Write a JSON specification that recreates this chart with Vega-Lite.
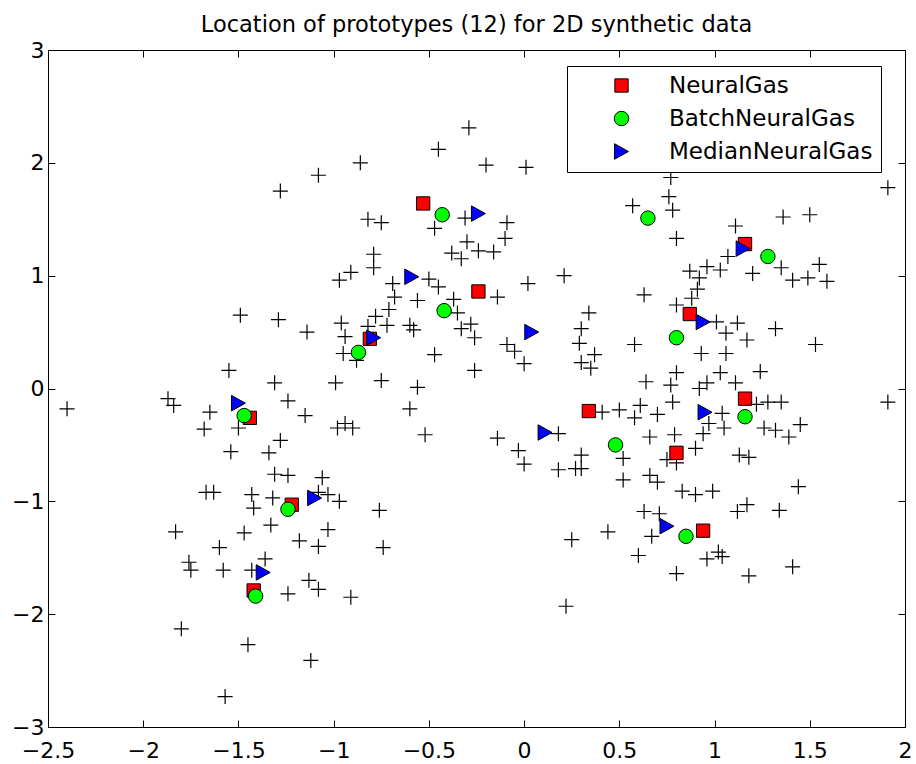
{
  "$schema": "https://vega.github.io/schema/vega-lite/v6.json",
  "width": 857,
  "height": 677,
  "autosize": {"type": "none"},
  "padding": {"left": 48, "top": 50, "right": 11, "bottom": 37},
  "background": "white",
  "title": {
    "text": "Location of prototypes (12) for 2D synthetic data",
    "font": "DejaVu Sans",
    "fontSize": 22.5,
    "fontWeight": "normal",
    "color": "black",
    "anchor": "middle",
    "offset": 3
  },
  "config": {
    "view": {"stroke": "black", "strokeWidth": 1},
    "axis": {
      "grid": false,
      "domain": false,
      "tickColor": "black",
      "tickSize": -7,
      "tickWidth": 1,
      "labelFont": "DejaVu Sans",
      "labelFontSize": 22,
      "labelColor": "black",
      "labelFlush": false,
      "labelOverlap": false
    }
  },
  "datasets": {
    "pts": [
      {"x":-1.08,"y":1.89},{"x":-1.28,"y":1.75},{"x":-1.49,"y":0.65},{"x":-1.29,"y":0.61},{"x":-1.14,"y":0.50},{"x":-1.55,"y":0.16},{"x":-1.31,"y":0.05},{"x":-0.99,"y":0.05},{"x":-0.97,"y":0.96},{"x":-0.96,"y":0.58},{"x":-0.94,"y":0.46},{"x":-0.95,"y":0.31},
      {"x":-0.29,"y":2.31},{"x":-0.45,"y":2.12},{"x":-0.86,"y":2.00},{"x":-0.20,"y":1.98},{"x":0.01,"y":1.96},{"x":-0.82,"y":1.50},{"x":-0.75,"y":1.47},{"x":-0.47,"y":1.42},{"x":-0.31,"y":1.51},{"x":-0.09,"y":1.47},{"x":-0.10,"y":1.33},{"x":-0.30,"y":1.30},{"x":-0.38,"y":1.20},{"x":-0.33,"y":1.15},{"x":-0.24,"y":1.22},{"x":-0.16,"y":1.21},{"x":-0.79,"y":1.19},{"x":-0.79,"y":1.07},{"x":-0.91,"y":1.03},{"x":-0.69,"y":0.93},{"x":-0.50,"y":0.97},{"x":-0.45,"y":0.90},{"x":0.02,"y":0.93},{"x":0.21,"y":1.00},{"x":-0.68,"y":0.81},{"x":-0.56,"y":0.78},{"x":-0.37,"y":0.79},{"x":-0.14,"y":0.81},{"x":-0.71,"y":0.70},{"x":-0.78,"y":0.64},{"x":-0.72,"y":0.56},{"x":-0.60,"y":0.56},{"x":-0.58,"y":0.52},{"x":-0.35,"y":0.67},{"x":-0.33,"y":0.53},{"x":-0.28,"y":0.57},{"x":-0.26,"y":0.45},{"x":-0.82,"y":0.55},{"x":-0.47,"y":0.30},{"x":-0.09,"y":0.39},{"x":-0.05,"y":0.33},{"x":0.00,"y":0.22},{"x":0.34,"y":0.67},{"x":0.30,"y":0.53},{"x":0.29,"y":0.40},{"x":0.37,"y":0.30},{"x":0.30,"y":0.23},{"x":0.35,"y":0.18},{"x":-0.26,"y":0.16},{"x":-0.75,"y":0.07},{"x":-0.56,"y":0.01},{"x":-0.88,"y":0.25},
      {"x":0.77,"y":1.87},{"x":0.76,"y":1.70},{"x":0.78,"y":1.58},{"x":0.57,"y":1.62},{"x":1.91,"y":1.78},{"x":0.80,"y":1.33},{"x":1.11,"y":1.44},{"x":1.36,"y":1.52},{"x":1.50,"y":1.54},{"x":1.07,"y":1.17},{"x":1.03,"y":1.05},{"x":0.96,"y":1.08},{"x":0.87,"y":1.04},{"x":0.92,"y":0.98},{"x":1.20,"y":1.02},{"x":1.35,"y":1.07},{"x":1.41,"y":0.96},{"x":1.49,"y":0.98},{"x":1.55,"y":1.10},{"x":1.59,"y":0.95},{"x":0.63,"y":0.83},{"x":0.91,"y":0.88},{"x":0.88,"y":0.80},{"x":0.80,"y":0.74},{"x":1.01,"y":0.59},{"x":1.12,"y":0.58},{"x":1.06,"y":0.49},{"x":1.17,"y":0.43},{"x":1.32,"y":0.53},{"x":0.58,"y":0.39},{"x":1.53,"y":0.39},{"x":0.93,"y":0.31},{"x":1.06,"y":0.31},{"x":0.64,"y":0.06},{"x":0.80,"y":0.14},{"x":0.77,"y":0.03},{"x":0.92,"y":0.00},{"x":0.96,"y":0.05},{"x":1.03,"y":0.14},{"x":1.11,"y":0.05},{"x":1.24,"y":0.15},
      {"x":-2.40,"y":-0.18},{"x":-1.87,"y":-0.09},{"x":-1.84,"y":-0.15},{"x":-1.65,"y":-0.21},{"x":-1.68,"y":-0.36},{"x":-1.50,"y":-0.35},{"x":-1.24,"y":-0.11},{"x":-1.15,"y":-0.24},{"x":-0.98,"y":-0.35},{"x":-1.28,"y":-0.46},{"x":-1.54,"y":-0.56},{"x":-1.34,"y":-0.57},{"x":-1.31,"y":-0.76},{"x":-1.24,"y":-0.77},{"x":-1.06,"y":-0.79},{"x":-1.67,"y":-0.92},{"x":-1.63,"y":-0.92},{"x":-1.43,"y":-0.94},{"x":-1.42,"y":-1.06},{"x":-1.32,"y":-0.97},{"x":-1.08,"y":-0.92},{"x":-1.03,"y":-0.94},{"x":-0.97,"y":-1.00},{"x":-1.33,"y":-1.21},{"x":-1.83,"y":-1.27},{"x":-1.47,"y":-1.28},{"x":-1.03,"y":-1.25},{"x":-1.18,"y":-1.35},{"x":-1.08,"y":-1.40},{"x":-1.60,"y":-1.41},{"x":-1.36,"y":-1.51},{"x":-1.76,"y":-1.54},{"x":-1.75,"y":-1.61},{"x":-1.58,"y":-1.61},{"x":-1.43,"y":-1.61},{"x":-1.24,"y":-1.82},{"x":-1.13,"y":-1.70},{"x":-1.08,"y":-1.78},{"x":-1.80,"y":-2.13},{"x":-1.45,"y":-2.27},{"x":-1.12,"y":-2.41},{"x":-1.57,"y":-2.73},
      {"x":-0.60,"y":-0.18},{"x":-0.94,"y":-0.31},{"x":-0.90,"y":-0.35},{"x":-0.52,"y":-0.41},{"x":-0.14,"y":-0.44},{"x":-0.03,"y":-0.55},{"x":0.00,"y":-0.67},{"x":0.18,"y":-0.40},{"x":0.41,"y":-0.21},{"x":0.50,"y":-0.19},{"x":0.30,"y":-0.59},{"x":0.27,"y":-0.71},{"x":0.30,"y":-0.71},{"x":0.18,"y":-0.72},{"x":0.52,"y":-0.62},{"x":0.52,"y":-0.81},{"x":-0.76,"y":-1.08},{"x":-0.74,"y":-1.41},{"x":-0.91,"y":-1.85},{"x":0.25,"y":-1.34},{"x":0.44,"y":-1.27},{"x":0.22,"y":-1.93},
      {"x":1.22,"y":-0.14},{"x":1.28,"y":-0.12},{"x":1.35,"y":-0.12},{"x":1.91,"y":-0.12},{"x":1.04,"y":-0.22},{"x":0.97,"y":-0.31},{"x":0.94,"y":-0.40},{"x":1.05,"y":-0.35},{"x":1.26,"y":-0.35},{"x":1.32,"y":-0.37},{"x":1.39,"y":-0.43},{"x":1.45,"y":-0.32},{"x":0.61,"y":-0.15},{"x":0.58,"y":-0.26},{"x":0.70,"y":-0.23},{"x":0.78,"y":-0.12},{"x":0.66,"y":-0.43},{"x":0.79,"y":-0.41},{"x":0.75,"y":-0.63},{"x":0.80,"y":-0.66},{"x":0.90,"y":-0.53},{"x":1.13,"y":-0.59},{"x":1.18,"y":-0.61},{"x":0.66,"y":-0.77},{"x":0.70,"y":-0.83},{"x":0.83,"y":-0.91},{"x":0.90,"y":-0.94},{"x":0.99,"y":-0.91},{"x":1.44,"y":-0.87},{"x":0.63,"y":-1.09},{"x":0.71,"y":-1.11},{"x":0.67,"y":-1.31},{"x":1.12,"y":-1.09},{"x":1.17,"y":-1.03},{"x":1.34,"y":-1.08},{"x":0.60,"y":-1.48},{"x":0.96,"y":-1.51},{"x":1.02,"y":-1.45},{"x":1.04,"y":-1.49},{"x":1.41,"y":-1.58},{"x":0.80,"y":-1.64},{"x":1.18,"y":-1.66}
    ],
    "protos": [
      {"method":"NeuralGas","x":-0.53,"y":1.64},{"method":"NeuralGas","x":-0.24,"y":0.86},{"method":"NeuralGas","x":-0.81,"y":0.44},{"method":"NeuralGas","x":1.16,"y":1.28},{"method":"NeuralGas","x":0.87,"y":0.66},{"method":"NeuralGas","x":-1.44,"y":-0.26},{"method":"NeuralGas","x":-1.22,"y":-1.03},{"method":"NeuralGas","x":-1.42,"y":-1.79},{"method":"NeuralGas","x":0.34,"y":-0.20},{"method":"NeuralGas","x":1.16,"y":-0.09},{"method":"NeuralGas","x":0.80,"y":-0.57},{"method":"NeuralGas","x":0.94,"y":-1.26},
      {"method":"BatchNeuralGas","x":-0.43,"y":1.54},{"method":"BatchNeuralGas","x":-0.42,"y":0.69},{"method":"BatchNeuralGas","x":-0.87,"y":0.32},{"method":"BatchNeuralGas","x":0.65,"y":1.51},{"method":"BatchNeuralGas","x":1.28,"y":1.17},{"method":"BatchNeuralGas","x":0.80,"y":0.45},{"method":"BatchNeuralGas","x":-1.47,"y":-0.24},{"method":"BatchNeuralGas","x":-1.24,"y":-1.07},{"method":"BatchNeuralGas","x":-1.41,"y":-1.84},{"method":"BatchNeuralGas","x":0.48,"y":-0.50},{"method":"BatchNeuralGas","x":1.16,"y":-0.25},{"method":"BatchNeuralGas","x":0.85,"y":-1.31},
      {"method":"MedianNeuralGas","x":-0.24,"y":1.55},{"method":"MedianNeuralGas","x":-0.59,"y":0.99},{"method":"MedianNeuralGas","x":-0.79,"y":0.45},{"method":"MedianNeuralGas","x":0.04,"y":0.50},{"method":"MedianNeuralGas","x":1.15,"y":1.24},{"method":"MedianNeuralGas","x":0.94,"y":0.59},{"method":"MedianNeuralGas","x":-1.50,"y":-0.13},{"method":"MedianNeuralGas","x":-1.10,"y":-0.97},{"method":"MedianNeuralGas","x":-1.37,"y":-1.63},{"method":"MedianNeuralGas","x":0.11,"y":-0.39},{"method":"MedianNeuralGas","x":0.95,"y":-0.21},{"method":"MedianNeuralGas","x":0.75,"y":-1.22}
    ]
  },
  "layer": [
    {
      "data": {"name": "pts"},
      "mark": {"type": "point", "shape": "M-1,0L1,0M0,-1L0,1", "size": 225, "filled": false, "stroke": "black", "strokeWidth": 1.2, "opacity": 1},
      "encoding": {
        "x": {"field": "x", "type": "quantitative", "scale": {"domain": [-2.5, 2], "nice": false, "zero": false},
              "axis": {"title": null, "orient": "bottom", "values": [-2.5, -2, -1.5, -1, -0.5, 0, 0.5, 1, 1.5, 2], "format": "~g", "labelPadding": 20,
                       "labelExpr": "datum.value < 0 ? datum.label + '\u2007' : datum.label"}},
        "y": {"field": "y", "type": "quantitative", "scale": {"domain": [-3, 3], "nice": false, "zero": false},
              "axis": {"title": null, "orient": "left", "values": [-3, -2, -1, 0, 1, 2, 3], "format": "~g", "labelPadding": 11}}
      }
    },
    {
      "data": {"name": "protos"},
      "mark": {"type": "point", "filled": true, "stroke": "black", "strokeWidth": 1, "opacity": 1},
      "encoding": {
        "x": {"field": "x", "type": "quantitative",
              "axis": {"title": null, "orient": "top", "values": [-2.5, -2, -1.5, -1, -0.5, 0, 0.5, 1, 1.5, 2], "labels": false}},
        "y": {"field": "y", "type": "quantitative",
              "axis": {"title": null, "orient": "right", "values": [-3, -2, -1, 0, 1, 2, 3], "labels": false}},
        "color": {"field": "method", "type": "nominal",
                  "scale": {"domain": ["NeuralGas", "BatchNeuralGas", "MedianNeuralGas"], "range": ["#ff0000", "#00ff00", "#0000ff"]},
                  "legend": {"title": null, "orient": "none", "legendX": 519, "legendY": 16, "direction": "vertical",
                             "fillColor": "white", "strokeColor": "black", "padding": 8,
                             "labelFont": "DejaVu Sans", "labelFontSize": 23, "labelColor": "black", "labelLimit": 0,
                             "symbolOffset": 35, "labelOffset": 36, "rowPadding": 9,
                             "symbolStrokeColor": "black", "symbolStrokeWidth": 1}},
        "shape": {"field": "method", "type": "nominal",
                  "scale": {"domain": ["NeuralGas", "BatchNeuralGas", "MedianNeuralGas"], "range": ["square", "circle", "M0.9,0L-0.9,-1L-0.9,1Z"]}},
        "size": {"field": "method", "type": "nominal",
                 "scale": {"domain": ["NeuralGas", "BatchNeuralGas", "MedianNeuralGas"], "range": [177, 240, 313]}}
      }
    }
  ],
  "resolve": {"axis": {"x": "independent", "y": "independent"}}
}
